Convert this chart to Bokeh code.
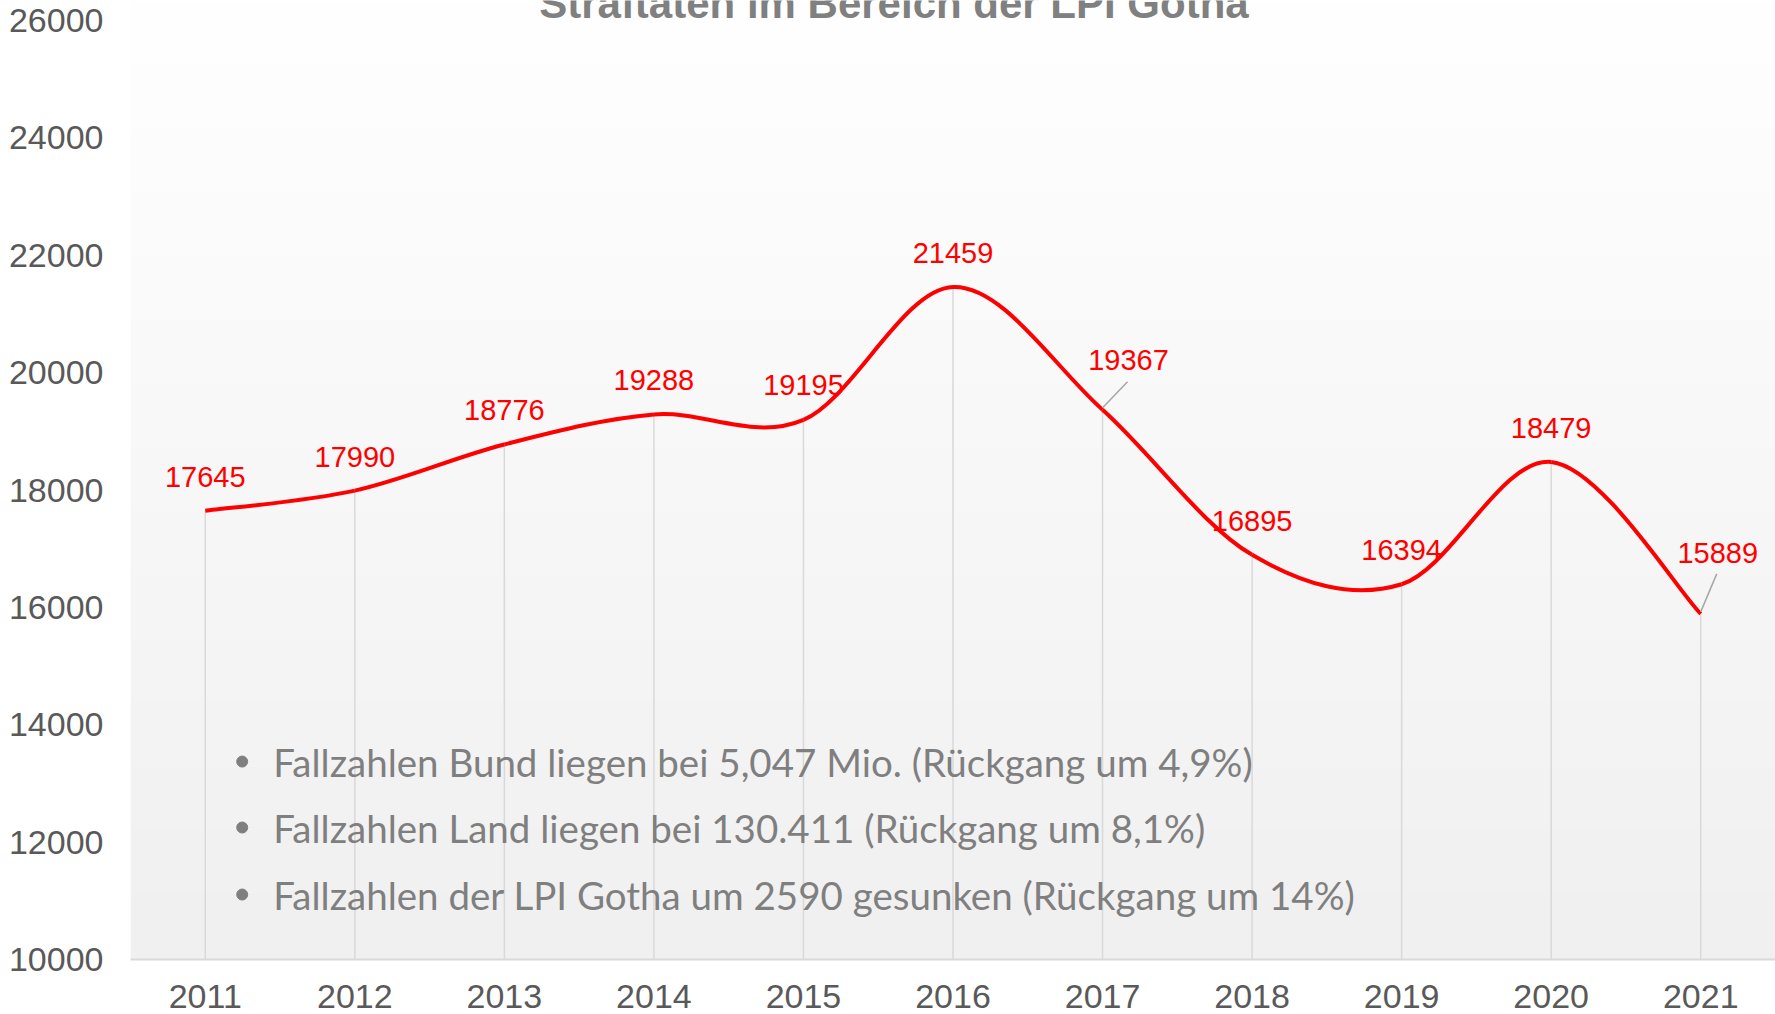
import numpy as np
from bokeh.plotting import figure
from bokeh.models import ColumnDataSource, FixedTicker, Range1d
from bokeh.core.properties import value
from bokeh.embed import file_html
from bokeh.resources import INLINE

# ---- data ----
years = [2011, 2012, 2013, 2014, 2015, 2016, 2017, 2018, 2019, 2020, 2021]
cases = [17645, 17990, 18776, 19288, 19195, 21459, 19367, 16895, 16394, 18479, 15889]
y_ticks = [10000, 12000, 14000, 16000, 18000, 20000, 22000, 24000, 26000]
title_text = "Straftaten im Bereich der LPI Gotha"
notes = [
    "Fallzahlen Bund liegen bei 5,047 Mio. (Rückgang um 4,9%)",
    "Fallzahlen Land liegen bei 130.411 (Rückgang um 8,1%)",
    "Fallzahlen der LPI Gotha um 2590 gesunken (Rückgang um 14%)",
]

# ---- layout / style (not data) ----
label_dx = [0, 0, 0, 0, 0, 0, 26, 0, 0, 0, 17]
label_dy = [-34, -34, -34, -34, -35, -34, -50, -34, -34, -34, -61]
leader_idx = [6, 10]
leader_end_px = {6: (25, -28), 10: (16, -40)}
notes_x_text = 2011.455
notes_x_bullet = 2011.247
notes_y = [13373, 12249, 11107]
title_x, title_y = 2015.605, 26290

X0, X1 = 2010.5, 2021.5
Y0, YTOP = 10000, 26000
W, H = 1775, 1014
frame_w = 1645.0
frame_h_axis = 939.0          # pixels between 10000 and 26000
top_pad_px = 20               # plot area continues 20px above 26000 (cut page top)
ppx = (X1 - X0) / frame_w
ppy = (YTOP - Y0) / frame_h_axis
Y1 = YTOP + top_pad_px * ppy

p = figure(width=W, height=H, x_range=Range1d(X0, X1), y_range=Range1d(Y0, Y1),
           output_backend="svg", toolbar_location=None,
           min_border_left=130, min_border_right=0, min_border_top=0, min_border_bottom=55)
p.outline_line_color = None
p.xgrid.grid_line_color = None
p.ygrid.grid_line_color = None
p.background_fill_color = "white"
p.border_fill_color = "white"

# gradient plot area background
N = 400
shade = np.linspace(0xf0, 0xff, N).astype(np.uint32)
img = (np.uint32(255) << 24) | (shade << 16) | (shade << 8) | shade
img = img.reshape(N, 1).astype(np.uint32)
p.image_rgba(image=[img], x=X0, y=Y0, dw=X1 - X0, dh=Y1 - Y0)

# drop lines
p.segment(x0=years, y0=[Y0] * len(years), x1=years, y1=cases, line_color="#d9d9d9", line_width=1.5)

# smoothed line (Catmull-Rom via cubic bezier)
xs = np.array(years, dtype=float)
ys = np.array(cases, dtype=float)
n = len(xs)
bz = dict(x0=[], y0=[], x1=[], y1=[], cx0=[], cy0=[], cx1=[], cy1=[])
for i in range(n - 1):
    a = i - 1 if i > 0 else i
    d = i + 2 if i + 2 < n else i + 1
    bz["x0"].append(xs[i]); bz["y0"].append(ys[i])
    bz["x1"].append(xs[i + 1]); bz["y1"].append(ys[i + 1])
    bz["cx0"].append(xs[i] + (xs[i + 1] - xs[a]) / 6); bz["cy0"].append(ys[i] + (ys[i + 1] - ys[a]) / 6)
    bz["cx1"].append(xs[i + 1] - (xs[d] - xs[i]) / 6); bz["cy1"].append(ys[i + 1] - (ys[d] - ys[i]) / 6)
p.bezier(source=ColumnDataSource(bz), x0="x0", y0="y0", x1="x1", y1="y1",
         cx0="cx0", cy0="cy0", cx1="cx1", cy1="cy1", line_color="#ff0000", line_width=4)

# leader lines
lx0, ly0, lx1, ly1 = [], [], [], []
for i in leader_idx:
    ex, ey = leader_end_px[i]
    lx0.append(years[i]); ly0.append(cases[i] + 2 * ppy)
    lx1.append(years[i] + ex * ppx); ly1.append(cases[i] - ey * ppy)
p.segment(x0=lx0, y0=ly0, x1=lx1, y1=ly1, line_color="#a6a6a6", line_width=1.5)

# data labels
lab = ColumnDataSource(dict(x=years, y=cases, t=[str(c) for c in cases], dx=label_dx, dy=label_dy))
p.text(source=lab, x="x", y="y", text="t", x_offset="dx", y_offset="dy",
       text_align="center", text_baseline="middle", text_color="#ff0000",
       text_font=value("Liberation Sans"), text_font_size="29px")

# notes
p.scatter(x=[notes_x_bullet] * len(notes), y=notes_y, size=11, color="#7f7f7f", marker="circle")
p.text(x=[notes_x_text] * len(notes), y=notes_y, text=notes, text_align="left", text_baseline="middle",
       text_color="#7f7f7f", text_font=value("Lato"), text_font_size="38.5px")

# title (cut by the top of the page, as in the original)
p.text(x=[title_x], y=[title_y], text=[title_text], text_align="center", text_baseline="alphabetic",
       text_color="#808080", text_font=value("Liberation Sans"), text_font_style="bold",
       text_font_size="42px")

# axes
p.xaxis.ticker = FixedTicker(ticks=years)
p.xaxis.major_label_overrides = {y: str(y) for y in years}
p.xaxis.axis_line_color = "#d9d9d9"
p.xaxis.axis_line_width = 2
p.xaxis.major_tick_line_color = None
p.xaxis.minor_tick_line_color = None
p.xaxis.major_tick_out = 0
p.xaxis.major_tick_in = 0
p.xaxis.major_label_standoff = 25
p.xaxis.major_label_text_color = "#595959"
p.xaxis.major_label_text_font = "Liberation Sans"
p.xaxis.major_label_text_font_size = "34px"

p.yaxis.ticker = FixedTicker(ticks=y_ticks)
p.yaxis.axis_line_color = None
p.yaxis.major_tick_line_color = None
p.yaxis.minor_tick_line_color = None
p.yaxis.major_tick_out = 0
p.yaxis.major_tick_in = 0
p.yaxis.major_label_standoff = 27
p.yaxis.major_label_text_color = "#595959"
p.yaxis.major_label_text_font = "Liberation Sans"
p.yaxis.major_label_text_font_size = "34px"

open("out.html", "w").write(file_html(p, INLINE))
